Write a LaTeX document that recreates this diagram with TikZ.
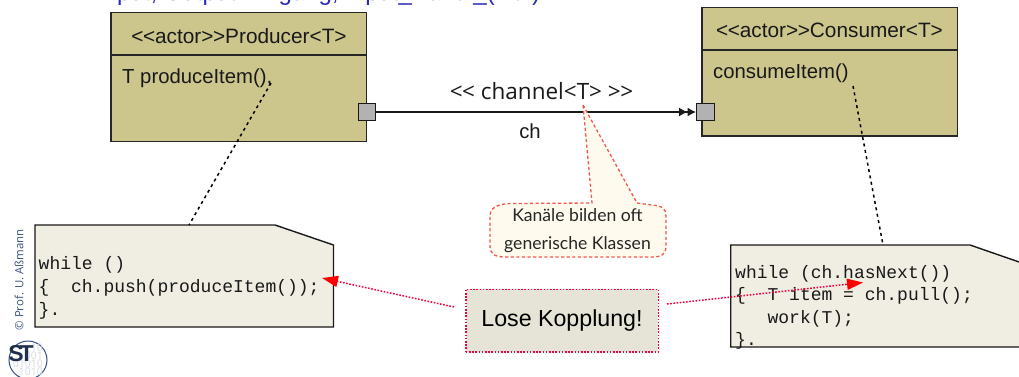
\documentclass[tikz,border=0pt]{standalone}
\usepackage{fontspec}
\setmainfont{Liberation Sans}
\setmonofont{Liberation Mono}
\newfontfamily\handfont{Lato}
\newfontfamily\chanfont{Open Sans}
\usetikzlibrary{arrows.meta}
\definecolor{umlfill}{HTML}{CCC68D}
\definecolor{notefill}{HTML}{F0EDE3}
\definecolor{portfill}{HTML}{B2B2B2}
\definecolor{loosefill}{HTML}{E6E4D7}
\definecolor{calloutfill}{HTML}{FEFBEE}
\definecolor{calloutline}{HTML}{F0594F}
\definecolor{pinkred}{HTML}{F5003D}
\definecolor{titleblue}{HTML}{2A2AB0}
\definecolor{sidegray}{HTML}{35507F}
\definecolor{bitgray}{HTML}{D5DAE6}
\tikzset{
  px/.style={x=1pt,y=-1pt},
  umlbox/.style={draw=black!85,line width=1.4pt,fill=umlfill},
  port/.style={draw=black!90,line width=1.4pt,fill=portfill,minimum size=17.5pt,inner sep=0pt},
  notebox/.style={draw=black!90,line width=1.4pt,fill=notefill},
  sans/.style={font=\fontsize{20.3}{24}\selectfont,text=black!90,inner sep=0pt},
  umlname/.style={font=\fontsize{20.8}{24}\selectfont,text=black!90,inner sep=0pt},
  mono/.style={font=\ttfamily\fontsize{18}{22.5}\selectfont,text=black!90,inner sep=0pt,align=left},
  dotline/.style={draw=black,line width=1.5pt,dash pattern=on 3pt off 3.5pt},
  redarrow/.style={draw=pinkred,line width=1.5pt,dash pattern=on 1.6pt off 1.6pt,-{Triangle[length=16pt,width=11pt,fill=red,color=red,sep=0pt]}},
}
\begin{document}
\begin{tikzpicture}[px]
\useasboundingbox (0,0) rectangle (1019,376);
\begin{scope}
\clip (0,0) rectangle (1019,376);
% title clipped at top
\node[anchor=base west,inner sep=0pt,font=\fontsize{24}{28}\selectfont,text=titleblue] (title) at (97,0) {Input, Output-Eingang, Input\_Kanal\_(int i)};
% producer
\draw[umlbox] (111,12.5) rectangle (366.5,141.5);
\draw[umlbox,fill=none] (111,55) -- (366.5,55);
\node[umlname] (prodname) at (239,36) {<\kern-0.5pt<actor>\kern-0.5pt>Producer<T>};
\node[sans,anchor=west] (prodop) at (122,78) {T produceItem(),};
% consumer
\draw[umlbox] (702,7.5) rectangle (957.5,136);
\draw[umlbox,fill=none] (702,50) -- (957.5,50);
\node[umlname] (consname) at (829.5,30.5) {<\kern-0.5pt<actor>\kern-0.5pt>Consumer<T>};
\node[sans,anchor=west] (consop) at (713,73) {consumeItem()};
% ports
\node[port] (pa) at (367,112) {};
\node[port] (pb) at (705.5,112) {};
\draw[line width=1.4pt,black!90,-{Latex[length=8.5pt,width=9pt]Latex[length=8.5pt,width=9pt]}] (pa) -- (pb);
\node[font=\chanfont\fontsize{22.5}{26}\selectfont,text=black!90,inner sep=0pt] (chtype) at (541.5,91) {<\kern-0.5pt< channel<T> >\kern-0.5pt>};
\node[sans] (chname) at (530,131) {ch};
% notes
\draw[notebox] (35,225) -- (275,225) -- (333.5,245) -- (333.5,327) -- (35,327) -- cycle;
\node[mono,anchor=north west,font=\ttfamily\fontsize{18}{23}\selectfont] (n1) at (38.5,256) {while ()\\\{\ \ ch.push(produceItem());\\\}.};
\draw[notebox] (730.7,245) -- (970,245) -- (1022,263) -- (1022,347) -- (730.7,347) -- cycle;
\node[mono,anchor=north west] (n2) at (735,265) {while (ch.hasNext())\\\{\ \ T item = ch.pull();\\\ \ \ work(T);\\\}.};
% dotted links
\coordinate (d1a) at (271,83);
\coordinate (d1b) at (189,225);
\draw[dotline] (d1a) -- (d1b);
\coordinate (d2a) at (853,86);
\coordinate (d2b) at (883,245);
\draw[dotline] (d2a) -- (d2b);
% callout
\coordinate (tip) at (583,105);
\draw[draw=calloutline,fill=calloutfill,line width=1.3pt,dash pattern=on 3.2pt off 2.4pt]
 (tip) -- (637,203) -- (652,205)
 .. controls (663,206) and (666,209) .. (666,216) -- (666,246)
 .. controls (666,254) and (662,257) .. (652,257) -- (505,257)
 .. controls (495,257) and (490,254) .. (490,246) -- (490,216)
 .. controls (490,208) and (497,204) .. (510,203.5) -- (592,203) -- cycle;
\node[font=\handfont\fontsize{17.6}{28}\selectfont,text=black!85,align=center,inner sep=0pt] (cal) at (577.5,231) {Kanäle bilden oft\\generische Klassen};
% loose coupling
\node[draw=pinkred,fill=loosefill,line width=1.5pt,dash pattern=on 1.6pt off 1.6pt,minimum width=192.5pt,minimum height=62.5pt,inner sep=0pt,font=\fontsize{23.2}{26}\selectfont,text=black] (lk) at (562,320.5) {Lose Kopplung!};
\coordinate (la) at (454,307);
\coordinate (lb) at (322,278);
\draw[redarrow] (la) -- (lb);
\coordinate (ra) at (667,304);
\coordinate (rb) at (863,282.5);
\draw[redarrow] (ra) -- (rb);
% side
\node[rotate=90,font=\chanfont\fontsize{11.4}{13}\selectfont,text=sidegray,inner sep=0pt,anchor=center] (copy) at (19,280) {© Prof. U. Aßmann};
% logo
\draw[draw=sidegray,line width=1pt,fill=white] (28,360) circle (19);
\node[font=\chanfont\fontsize{10.5}{8}\selectfont,text=bitgray,align=right,inner sep=0pt,anchor=north east] (bits) at (43,344) {10\\001\\01010\\1010};
\node[font=\bfseries\fontsize{23}{23}\selectfont,text=sidegray!60!black,inner sep=0pt] (st) at (21,353.5) {S\kern-4pt T};
\end{scope}
\end{tikzpicture}
\end{document}
